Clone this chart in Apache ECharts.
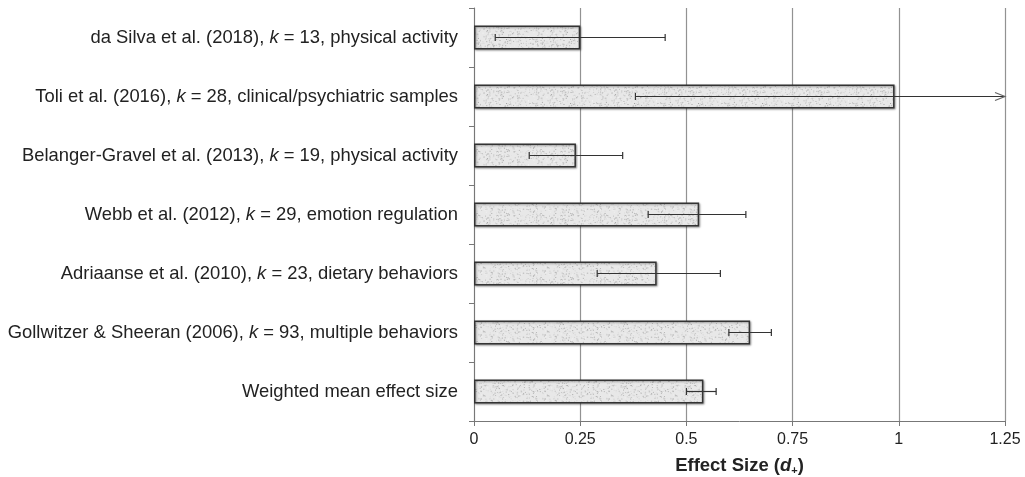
<!DOCTYPE html>
<html>
<head>
<meta charset="utf-8">
<script src="https://cdn.jsdelivr.net/npm/echarts@6/dist/echarts.min.js"></script>
<style>html,body{margin:0;padding:0;background:#fff;}#c{width:1025px;height:477px;}</style>
</head>
<body>
<div id="c"></div>
<script>
// ---- data (top to bottom) ----
const authors = ["da Silva et al. (2018)", "Toli et al. (2016)", "Belanger-Gravel et al. (2013)", "Webb et al. (2012)", "Adriaanse et al. (2010)", "Gollwitzer & Sheeran (2006)", "Weighted mean effect size"];
const kValues = [13, 28, 19, 29, 23, 93, null];
const topics = ["physical activity", "clinical/psychiatric samples", "physical activity", "emotion regulation", "dietary behaviors", "multiple behaviors", null];
const effectSizes = [0.25, 0.99, 0.24, 0.53, 0.43, 0.65, 0.54];
const ciLow = [0.05, 0.38, 0.13, 0.41, 0.29, 0.60, 0.50];
const ciHigh = [0.45, 1.25, 0.35, 0.64, 0.58, 0.70, 0.57];
const ciBeyondAxis = [false, true, false, false, false, false, false];
const xTicks = [0, 0.25, 0.5, 0.75, 1, 1.25];

const categories = authors.map((a, i) => kValues[i] == null ? a : a + ", {i|k} = " + kValues[i] + ", " + topics[i]);

// speckled texture for the bars
function makeTexture() {
  const c = document.createElement('canvas');
  c.width = 64; c.height = 64;
  const g = c.getContext('2d');
  g.fillStyle = '#e8e8e8';
  g.fillRect(0, 0, 64, 64);
  let s = 12345;
  function rnd() { s = (s * 1103515245 + 12345) & 0x7fffffff; return s / 0x7fffffff; }
  for (let n = 0; n < 900; n++) {
    const x = rnd() * 64, y = rnd() * 64;
    const v = Math.floor(165 + rnd() * 80);
    g.fillStyle = 'rgb(' + v + ',' + v + ',' + v + ')';
    g.fillRect(x, y, 1, 1);
  }
  return c;
}

const chart = echarts.init(document.getElementById('c'), null, {renderer: 'canvas'});
const fontFam = '"Liberation Sans", Arial, Helvetica, sans-serif';

chart.setOption({
  animation: false,
  grid: {left: 474, right: 20, top: 8, bottom: 56, containLabel: false, outerBoundsMode: 'none'},
  xAxis: {
    type: 'value', min: 0, max: 1.25, interval: 0.25,
    axisLine: {show: true, lineStyle: {color: '#777', width: 1}},
    axisTick: {show: true, length: 5, lineStyle: {color: '#777'}},
    splitLine: {show: true, lineStyle: {color: '#929292', width: 1.2}},
    axisLabel: {color: '#222', fontSize: 16, fontFamily: fontFam, margin: 11,
      formatter: v => { const t = xTicks.find(x => Math.abs(x - v) < 1e-9); return t == null ? '' : String(t); }},
    name: '{b|Effect Size (}{bi|d}{sub|+}{b|)}',
    nameLocation: 'middle', nameGap: 35,
    nameTextStyle: {rich: {
      b: {fontSize: 18.5, fontWeight: 'bold', fontFamily: fontFam, color: '#222'},
      bi: {fontSize: 18.5, fontWeight: 'bold', fontStyle: 'italic', fontFamily: fontFam, color: '#222'},
      sub: {fontSize: 11, fontWeight: 'bold', fontFamily: fontFam, color: '#222', verticalAlign: 'bottom', padding: [9, 0, 0, 0]}
    }}
  },
  yAxis: {
    type: 'category', data: categories, inverse: true,
    axisLine: {show: true, lineStyle: {color: '#777', width: 1}},
    axisTick: {show: true, length: 5, alignWithLabel: false, lineStyle: {color: '#777'}},
    splitLine: {show: false},
    axisLabel: {color: '#222', fontSize: 18.4, fontFamily: fontFam, margin: 16,
      rich: {i: {fontSize: 18.4, fontStyle: 'italic', fontFamily: fontFam, color: '#222'}}}
  },
  series: [
    {
      type: 'bar', data: effectSizes, barWidth: 24,
      itemStyle: {color: {image: makeTexture(), repeat: 'repeat'}, borderColor: '#333', borderWidth: 1.5,
        shadowColor: 'rgba(0,0,0,0.35)', shadowBlur: 2, shadowOffsetX: 1, shadowOffsetY: 1},
      z: 2
    },
    {
      type: 'custom', z: 5,
      data: ciLow.map((lo, i) => [i, lo, ciHigh[i], ciBeyondAxis[i] ? 1 : 0]),
      renderItem: function (params, api) {
        const idx = api.value(0);
        const p1 = api.coord([api.value(1), idx]);
        const p2 = api.coord([api.value(2), idx]);
        const y = p1[1];
        const cap = 3.5;
        const style = {stroke: '#333', lineWidth: 1.2, fill: null};
        const children = [
          {type: 'line', shape: {x1: p1[0], y1: y, x2: p2[0], y2: y}, style: style},
          {type: 'line', shape: {x1: p1[0], y1: y - cap, x2: p1[0], y2: y + cap}, style: style}
        ];
        if (api.value(3) === 1) {
          children.push({type: 'polyline', shape: {points: [[p2[0] - 10, y - 4], [p2[0], y], [p2[0] - 10, y + 4]]}, style: {stroke: '#666', lineWidth: 1.2, fill: null}});
        } else {
          children.push({type: 'line', shape: {x1: p2[0], y1: y - cap, x2: p2[0], y2: y + cap}, style: style});
        }
        return {type: 'group', children: children};
      }
    }
  ]
});
</script>
</body>
</html>
